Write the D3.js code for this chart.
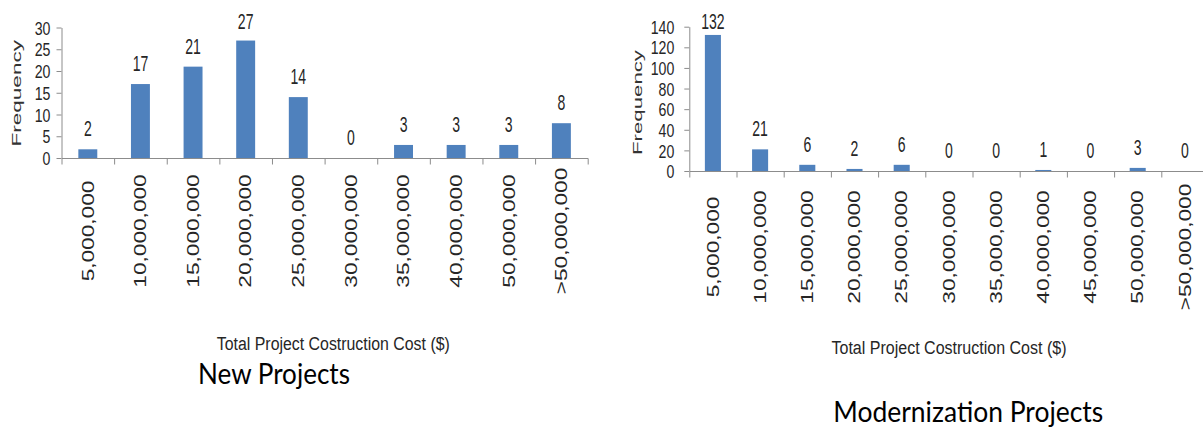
<!DOCTYPE html>
<html><head><meta charset="utf-8">
<script src="https://cdn.jsdelivr.net/npm/d3@7"></script>
<style>body{margin:0;background:#fff}</style>
</head><body><svg id="c" width="1203" height="427"></svg>
<script>
const newCategories = ["5,000,000","10,000,000","15,000,000","20,000,000","25,000,000","30,000,000","35,000,000","40,000,000","50,000,000",">50,000,000"];
const newValues = [2,17,21,27,14,0,3,3,3,8];
const newTicks = [0,5,10,15,20,25,30];
const modCategories = ["5,000,000","10,000,000","15,000,000","20,000,000","25,000,000","30,000,000","35,000,000","40,000,000","45,000,000","50,000,000",">50,000,000"];
const modValues = [132,21,6,2,6,0,0,1,0,3,0];
const modTicks = [0,20,40,60,80,100,120,140];
const newTitle = "New Projects";
const modTitle = "Modernization Projects";
const xTitle = "Total Project Costruction Cost ($)";
const yTitle = "Frequency";

const AX = "#8c8c8c", TXT = "#262626", BAR = "#4F81BD";
const SANS = "'Liberation Sans', Arial, sans-serif";
const svg = d3.select("#c");
svg.append("rect").attr("width",1203).attr("height",427).attr("fill","#fff");

function drawChart(o){
  const g = svg.append("g");
  const x = d3.scaleBand().domain(o.cats).range([o.x0,o.x1]).paddingInner(o.pad).paddingOuter(o.pad/2);
  const y = d3.scaleLinear().domain([0,d3.max(o.ticks)]).range([o.yBase,o.yTop]);
  const data = d3.zip(o.cats,o.vals).map(([c,v])=>({c,v}));

  // bars
  g.selectAll("rect.bar").data(data).join("rect").attr("class","bar")
    .attr("x",d=>x(d.c)).attr("width",x.bandwidth())
    .attr("y",d=>y(d.v)).attr("height",d=>o.yBase-y(d.v)).attr("fill",BAR);

  // y axis
  const ya = g.append("g").attr("transform",`translate(${o.x0},0)`)
    .call(d3.axisLeft(y).tickValues(o.ticks).tickSize(5).tickSizeOuter(0).tickPadding(o.tickPad));
  ya.select(".domain").attr("stroke",AX);
  ya.selectAll(".tick line").attr("stroke",AX);
  ya.selectAll(".tick text").each(function(){
    const t=d3.select(this); const xx=+t.attr("x");
    t.attr("x",0).attr("dy",null).attr("dominant-baseline","central")
     .attr("transform",`translate(${xx},0) scale(0.8,1)`);
  }).attr("font-family",SANS).attr("font-size",17.7).attr("fill",TXT);

  // x axis (labels at band centres)
  const xa = g.append("g").attr("transform",`translate(0,${o.yBase})`)
    .call(d3.axisBottom(x).tickSize(0).tickSizeOuter(0).tickPadding(0));
  xa.select(".domain").attr("stroke",AX);
  xa.selectAll(".tick text").attr("y",0).attr("dy",null)
    .attr("text-anchor","middle").attr("dominant-baseline","central")
    .attr("transform",`translate(0,${o.labCenter}) scale(1,1.39) rotate(-90)`)
    .attr("font-family",SANS).attr("font-size",16.3).attr("fill",TXT);

  // boundary tick marks
  g.selectAll("line.bt").data(d3.range(o.cats.length+1)).join("line").attr("class","bt")
    .attr("x1",i=>x.range()[0]+i*x.step()+0.5).attr("x2",i=>x.range()[0]+i*x.step()+0.5)
    .attr("y1",o.yBase+0.5).attr("y2",o.yBase+6.5).attr("stroke",AX);

  // value labels
  g.selectAll("text.val").data(data).join("text").attr("class","val")
    .attr("text-anchor","middle")
    .attr("transform",d=>`translate(${x(d.c)+x.bandwidth()/2},${Math.max(y(d.v)-13,o.labelMin)}) scale(0.65,1)`)
    .attr("font-family",SANS).attr("font-size",21.6).attr("fill",TXT).text(d=>d.v);

  // y title
  const yt = g.append("text").attr("text-anchor","middle")
    .attr("font-family",SANS).attr("font-size",13.5).attr("fill","#333").text(yTitle);
  const nat = yt.node().getComputedTextLength();
  yt.attr("transform",`translate(${o.fx},${o.fy}) scale(1,${o.flen/nat}) rotate(-90)`);

  // x title
  g.append("text").attr("x",o.tx).attr("y",o.ty).attr("text-anchor","middle")
    .attr("font-family",SANS).attr("font-size",18).attr("fill",TXT)
    .attr("textLength",o.tw).attr("lengthAdjust","spacingAndGlyphs").text(xTitle);

  // chart caption
  g.append("text").attr("x",o.cx).attr("y",o.cy).attr("text-anchor","middle")
    .attr("font-family","Lato, 'Open Sans', sans-serif").attr("font-size",29).attr("fill","#000")
    .attr("textLength",o.cw).attr("lengthAdjust","spacingAndGlyphs").text(o.caption);
}

drawChart({cats:newCategories, vals:newValues, ticks:newTicks,
  x0:61.5, x1:587.7, pad:0.64, yBase:158, yTop:27.5, tickPad:6, labelMin:29, labCenter:73,
  fx:21, fy:93.3, flen:106.7, tx:333.3, ty:350, tw:233, cx:274, cy:384, cw:152, caption:newTitle});

drawChart({cats:modCategories, vals:modValues, ticks:modTicks,
  x0:689.3, x1:1208.5, pad:0.66, yBase:171, yTop:26.7, tickPad:10, labelMin:29, labCenter:76,
  fx:642.4, fy:102.5, flen:105, tx:949, ty:354, tw:235, cx:968.3, cy:421.7, cw:270, caption:modTitle});
</script></body></html>
